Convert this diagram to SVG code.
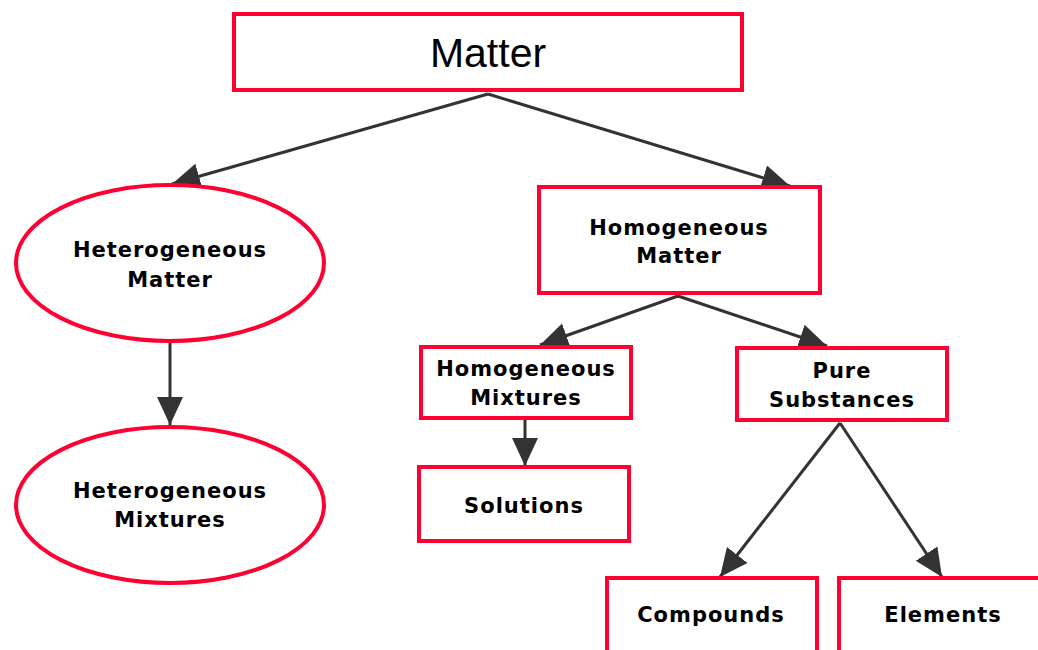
<svg xmlns="http://www.w3.org/2000/svg" width="1038" height="650" viewBox="0 0 1038 650">
<style>
.box{fill:#fff;stroke:#ff0033;stroke-width:4}
.lbl{font-family:"DejaVu Sans",Verdana,sans-serif;font-weight:bold;font-size:21px;letter-spacing:1px;fill:#000;text-anchor:middle}
.big{font-family:"Liberation Sans",Arial,sans-serif;font-size:41px;fill:#000;text-anchor:middle}
.edge{stroke:#333;stroke-width:3;fill:none;marker-end:url(#ah)}
</style>
<defs>
<marker id="ah" markerUnits="userSpaceOnUse" markerWidth="30" markerHeight="28" refX="28" refY="13" orient="auto">
<path d="M0,0 L28,13 L0,26 z" fill="#333"/>
</marker>
</defs>
<rect width="1038" height="650" fill="#fff"/>
<g id="connectors">
<line class="edge" x1="488" y1="94" x2="172" y2="184"/>
<line class="edge" x1="488" y1="94" x2="790" y2="186"/>
<line class="edge" x1="170" y1="342" x2="170" y2="425"/>
<line class="edge" x1="678" y1="296" x2="540" y2="345"/>
<line class="edge" x1="678" y1="296" x2="827" y2="346"/>
<line class="edge" x1="525" y1="419" x2="525" y2="466"/>
<line class="edge" x1="840" y1="423" x2="720" y2="577"/>
<line class="edge" x1="840" y1="423" x2="942" y2="577"/>
</g>
<g id="matter">
<rect class="box" x="234" y="14" width="508" height="76"/>
<text class="big" x="488" y="67">Matter</text>
</g>
<g id="heterogeneous-matter">
<ellipse class="box" cx="170" cy="263" rx="154" ry="78"/>
<text class="lbl" x="170" y="257">Heterogeneous</text>
<text class="lbl" x="170" y="287">Matter</text>
</g>
<g id="heterogeneous-mixtures">
<ellipse class="box" cx="170" cy="505" rx="154" ry="78"/>
<text class="lbl" x="170" y="498">Heterogeneous</text>
<text class="lbl" x="170" y="527">Mixtures</text>
</g>
<g id="homogeneous-matter">
<rect class="box" x="539" y="187" width="281" height="106"/>
<text class="lbl" x="679" y="235">Homogeneous</text>
<text class="lbl" x="679" y="263">Matter</text>
</g>
<g id="homogeneous-mixtures">
<rect class="box" x="421" y="347" width="210" height="71"/>
<text class="lbl" x="526" y="376">Homogeneous</text>
<text class="lbl" x="526" y="405">Mixtures</text>
</g>
<g id="pure-substances">
<rect class="box" x="737" y="348" width="210" height="72"/>
<text class="lbl" x="842" y="378">Pure</text>
<text class="lbl" x="842" y="407">Substances</text>
</g>
<g id="solutions">
<rect class="box" x="419" y="467" width="210" height="74"/>
<text class="lbl" x="524" y="513">Solutions</text>
</g>
<g id="compounds">
<rect class="box" x="607" y="578" width="210" height="80"/>
<text class="lbl" x="711" y="622">Compounds</text>
</g>
<g id="elements">
<rect class="box" x="839" y="578" width="210" height="80"/>
<text class="lbl" x="943" y="622">Elements</text>
</g>
</svg>
